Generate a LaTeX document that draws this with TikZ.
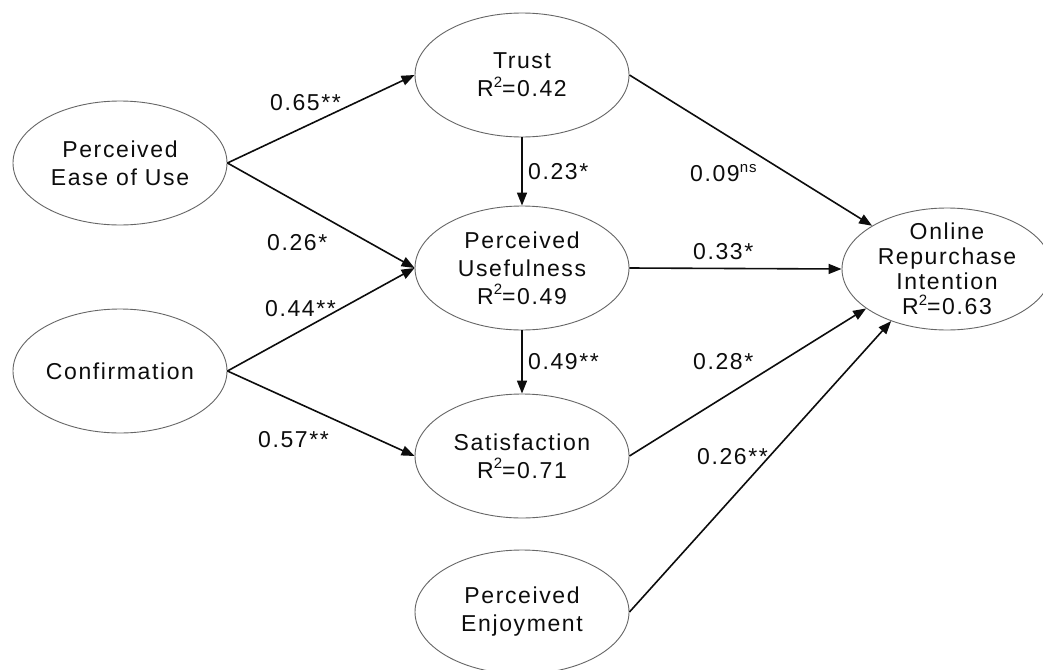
\documentclass[tikz,border=0pt]{standalone}
\usepackage{fontspec}
\setmainfont{Liberation Sans}[LetterSpace=7]
\usetikzlibrary{arrows.meta,shapes.geometric}
\newcommand{\supr}[1]{\raisebox{0.42em}{\fontsize{15}{15}\selectfont #1}}
\begin{document}
\begin{tikzpicture}[x=1pt,y=-1pt,
  lat/.style={ellipse, draw=black!60, line width=0.9pt, minimum width=214pt,
    minimum height=124pt, inner sep=0pt},
  lattext/.style={align=center, text=black!95, font=\fontsize{23}{28}\selectfont},
  pathar/.style={line width=1.6pt, draw=black!95, -{Triangle[length=13pt,width=10pt]}},
  coef/.style={anchor=west, inner sep=0pt, text=black!95, font=\fontsize{23}{26}\selectfont}]
\useasboundingbox (0,0) rectangle (1043,669);
\fill[white] (0,0) rectangle (1043,669);

\node[lat, label={[lattext]center:{Perceived\\Ease of Use}}] (peu) at (120,163) {};
\node[lat, label={[lattext]center:{Confirmation}}] (conf) at (120,371) {};
\node[lat, label={[lattext]center:{Trust\\R\supr{2}=0.42}}] (trust) at (522,75) {};
\node[lat, label={[lattext]center:{Perceived\\Usefulness\\R\supr{2}=0.49}}] (pu) at (522,268) {};
\node[lat, label={[lattext]center:{Satisfaction\\R\supr{2}=0.71}}] (sat) at (522,456) {};
\node[lat, label={[lattext]center:{Perceived\\Enjoyment}}] (enj) at (522,612) {};
\node[lat, minimum width=210pt, minimum height=122pt,
  label={[lattext, font=\fontsize{23}{25}\selectfont]center:{Online\\Repurchase\\Intention\\R\supr{2}=0.63}}] (ori) at (947,269) {};

\draw[pathar] (peu.east) -- (trust.west);
\draw[pathar] (peu.east) -- (pu.west);
\draw[pathar] (conf.east) -- (pu.west);
\draw[pathar] (conf.east) -- (sat.west);
\draw[pathar] (trust.south) -- (pu.north);
\draw[pathar] (pu.south) -- (sat.north);
\draw[pathar] (trust.east) -- (ori.150);
\draw[pathar] (pu.east) -- (ori.west);
\draw[pathar] (sat.east) -- (ori.206);
\draw[pathar] (enj.east) -- (ori.223);

\node[coef] (c1) at (270,103) {0.65**};
\node[coef] (c2) at (267,243) {0.26*};
\node[coef] (c3) at (265,309) {0.44**};
\node[coef] (c4) at (258,440) {0.57**};
\node[coef] (c5) at (528,172) {0.23*};
\node[coef] (c6) at (690,173) {0.09\supr{ns}};
\node[coef] (c7) at (693,252) {0.33*};
\node[coef] (c8) at (528,362) {0.49**};
\node[coef] (c9) at (693,362) {0.28*};
\node[coef] (c10) at (697,457) {0.26**};
\end{tikzpicture}
\end{document}
